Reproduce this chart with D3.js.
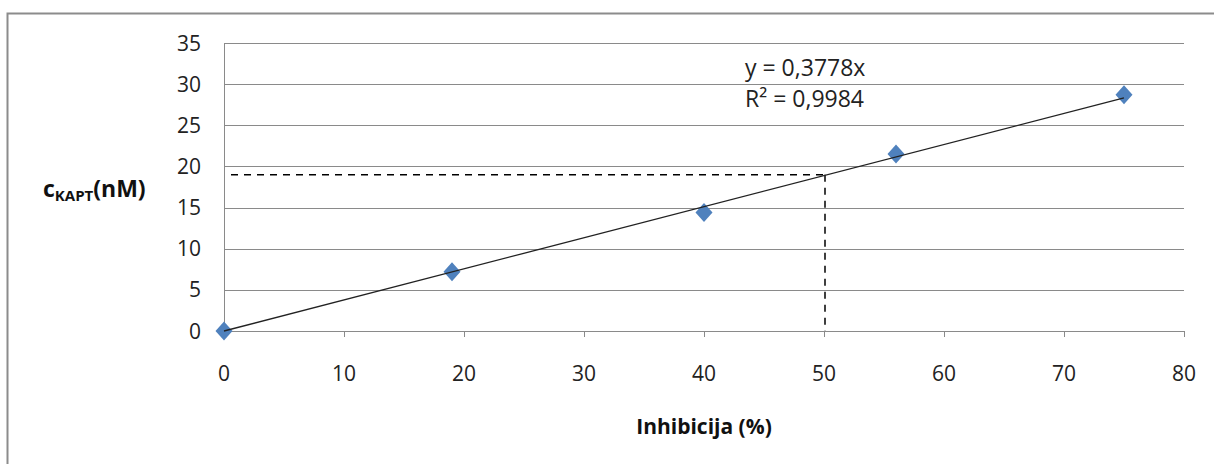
<!DOCTYPE html>
<html>
<head>
<meta charset="utf-8">
<script src="https://cdn.jsdelivr.net/npm/d3@7"></script>
<style>
  html, body { margin: 0; padding: 0; background: #fff; }
  svg { display: block; font-family: "Open Sans", sans-serif; }
</style>
</head>
<body>
<svg id="chart" width="1214" height="464"></svg>
<script>
// data
const inhibicija = [0, 19, 40, 56, 75];
const cKapt      = [0, 7.2, 14.4, 21.5, 28.7];
const xTicks     = [0, 10, 20, 30, 40, 50, 60, 70, 80];
const yTicks     = [0, 5, 10, 15, 20, 25, 30, 35];
const slope      = 0.3778;
const eqLines    = ['y = 0,3778x', 'R² = 0,9984'];
const ic50       = [50, 19];   // dashed guide: x = 50 %, y ≈ 19 nM

const svg = d3.select('#chart');

// outer chart frame
svg.append('rect')
  .attr('x', 7.5).attr('y', 13.5)
  .attr('width', 1214).attr('height', 470)
  .attr('fill', 'none')
  .attr('stroke', '#8c8c8c')
  .attr('stroke-width', 2);

const x = d3.scaleLinear().domain([0, 80]).range([224, 1184]);
const y = d3.scaleLinear().domain([0, 35]).range([331, 43]);

// horizontal gridlines
svg.append('g')
  .selectAll('line')
  .data(yTicks)
  .join('line')
  .attr('x1', x(0)).attr('x2', x(80))
  .attr('y1', d => Math.round(y(d)) + 0.5)
  .attr('y2', d => Math.round(y(d)) + 0.5)
  .attr('stroke', '#8a8a8a')
  .attr('stroke-width', 1);

// y axis line
svg.append('line')
  .attr('x1', x(0) + 0.5).attr('x2', x(0) + 0.5)
  .attr('y1', y(35)).attr('y2', y(0))
  .attr('stroke', '#8a8a8a');

// x axis ticks (down)
svg.append('g')
  .selectAll('line')
  .data(xTicks)
  .join('line')
  .attr('x1', d => Math.round(x(d)) + 0.5)
  .attr('x2', d => Math.round(x(d)) + 0.5)
  .attr('y1', y(0)).attr('y2', y(0) + 6)
  .attr('stroke', '#8a8a8a');

// tick labels
svg.append('g')
  .selectAll('text')
  .data(xTicks)
  .join('text')
  .attr('x', d => x(d))
  .attr('y', 381)
  .attr('text-anchor', 'middle')
  .attr('font-size', 21)
  .attr('fill', '#222')
  .text(d => d);

svg.append('g')
  .selectAll('text')
  .data(yTicks)
  .join('text')
  .attr('x', 201)
  .attr('y', d => y(d) + 7.5)
  .attr('text-anchor', 'end')
  .attr('font-size', 21)
  .attr('fill', '#222')
  .text(d => d);

// dashed guide lines
const guide = svg.append('g')
  .attr('stroke', '#000')
  .attr('stroke-width', 1.5)
  .attr('stroke-dasharray', '7,6');
guide.append('line')
  .attr('x1', x(0) + 7).attr('x2', x(ic50[0]))
  .attr('y1', y(ic50[1])).attr('y2', y(ic50[1]));
guide.append('line')
  .attr('x1', x(ic50[0]) + 1).attr('x2', x(ic50[0]) + 1)
  .attr('y1', y(ic50[1])).attr('y2', y(0));

// markers (diamonds, slightly taller than wide)
const diamond = 'M0,-9.5L8.5,0L0,9.5L-8.5,0Z';
svg.append('g')
  .selectAll('path')
  .data(inhibicija.map((v, i) => [v, cKapt[i]]))
  .join('path')
  .attr('d', diamond)
  .attr('transform', d => `translate(${x(d[0])},${y(d[1])})`)
  .attr('fill', '#4f81bd');

// linear trendline through origin
const trend = [inhibicija[0], inhibicija[inhibicija.length - 1]];
svg.append('line')
  .attr('x1', x(trend[0])).attr('y1', y(slope * trend[0]))
  .attr('x2', x(trend[1])).attr('y2', y(slope * trend[1]))
  .attr('stroke', '#222')
  .attr('stroke-width', 1.3);

// equation label
svg.append('g')
  .selectAll('text')
  .data(eqLines)
  .join('text')
  .attr('x', 745)
  .attr('y', (d, i) => 76 + i * 31)
  .attr('font-size', 23)
  .attr('fill', '#222')
  .text(d => d);

// axis titles
svg.append('text')
  .attr('x', 704).attr('y', 434)
  .attr('text-anchor', 'middle')
  .attr('font-size', 21)
  .attr('font-weight', 'bold')
  .attr('fill', '#111')
  .text('Inhibicija (%)');

const yt = svg.append('text')
  .attr('x', 43).attr('y', 197)
  .attr('font-size', 23)
  .attr('font-weight', 'bold')
  .attr('fill', '#111');
yt.append('tspan').text('c');
yt.append('tspan').attr('font-size', 15).attr('dy', 4).text('KAPT');
yt.append('tspan').attr('dy', -4).text('(nM)');
</script>
</body>
</html>
